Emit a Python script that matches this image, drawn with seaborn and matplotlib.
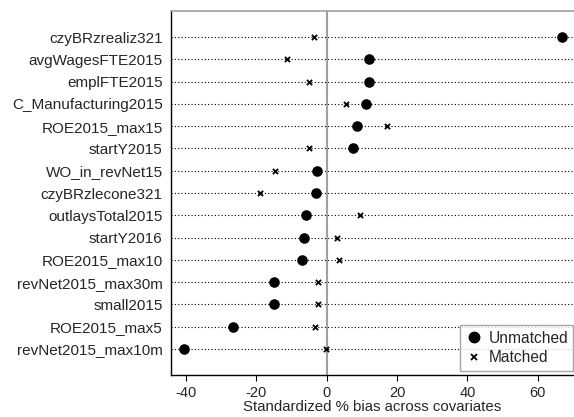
import matplotlib
matplotlib.use("Agg")
import matplotlib.pyplot as plt
import seaborn as sns
import pandas as pd
from matplotlib.lines import Line2D

covariates = ["czyBRzrealiz321", "avgWagesFTE2015", "emplFTE2015", "C_Manufacturing2015",
              "ROE2015_max15", "startY2015", "WO_in_revNet15", "czyBRzlecone321",
              "outlaysTotal2015", "startY2016", "ROE2015_max10", "revNet2015_max30m",
              "small2015", "ROE2015_max5", "revNet2015_max10m"]
unmatched = [66.8, 12.1, 12.0, 11.1, 8.6, 7.4, -2.8, -2.9, -5.8, -6.3, -6.9, -14.9, -15.0, -26.5, -40.4]
matched = [-3.6, -11.2, -5.1, 5.6, 17.1, -5.0, -14.6, -19.0, 9.6, 3.1, 3.4, -2.5, -2.5, -3.4, -0.1]
xticks = [-40, -20, 0, 20, 40, 60]

sns.set_theme(style="white")
plt.rcParams['font.family'] = ['Liberation Sans', 'DejaVu Sans']

df_u = pd.DataFrame({"cov": covariates, "bias": unmatched})
df_m = pd.DataFrame({"cov": covariates, "bias": matched})

fig = plt.figure(figsize=(5.74, 4.17), dpi=100)
ax = fig.add_axes([171/574, 1-375/417, 1-171/574, (375-11)/417])

ypos = list(range(len(covariates)))
for y in ypos:
    ax.axhline(y, color="black", linestyle=(0, (1, 2)), linewidth=0.8, zorder=1)
ax.axvline(0, color="#a0a0a0", linewidth=1.5, zorder=1)

sns.scatterplot(data=df_u, x="bias", y="cov", ax=ax, marker="o", color="black",
                s=58, edgecolor="black", linewidth=0, zorder=3)
sns.scatterplot(data=df_m, x="bias", y="cov", ax=ax, marker="x", color="black",
                s=14, linewidth=1.3, zorder=3)

ax.set_xlim(-44.2, 70.3)
ax.set_ylim(len(covariates) - 1 + 1.17, -1.17)
ax.set_xticks(xticks)
ax.set_xticklabels([str(t) for t in xticks], fontsize=10.5)
ax.set_yticks(ypos)
ax.set_yticklabels(covariates, fontsize=11)
ax.set_ylabel("")
ax.set_xlabel("Standardized % bias across covariates", fontsize=10.8, labelpad=0)

ax.tick_params(axis="x", direction="out", length=4.5, width=0.8, color="black", pad=3.5, bottom=True)
ax.tick_params(axis="y", length=0, pad=6)

for side in ["left", "bottom"]:
    ax.spines[side].set_color("black")
    ax.spines[side].set_linewidth(1.0)
ax.spines["top"].set_color("#a0a0a0")
ax.spines["top"].set_linewidth(1.2)
ax.spines["right"].set_visible(False)

handles = [Line2D([], [], marker="o", color="black", linestyle="none", markersize=7.5),
           Line2D([], [], marker="x", color="black", linestyle="none", markersize=4, markeredgewidth=1.3)]
leg = ax.legend(handles, ["Unmatched", "Matched"], loc="lower right",
                bbox_to_anchor=(0.9985, 0.012), fontsize=11.2, frameon=True, fancybox=False,
                borderpad=0.35, handletextpad=0.3, handlelength=1.2, labelspacing=0.3,
                borderaxespad=0)
leg.get_frame().set_edgecolor("#909090")
leg.get_frame().set_linewidth(1.0)

fig.savefig("out.png", dpi=100)
